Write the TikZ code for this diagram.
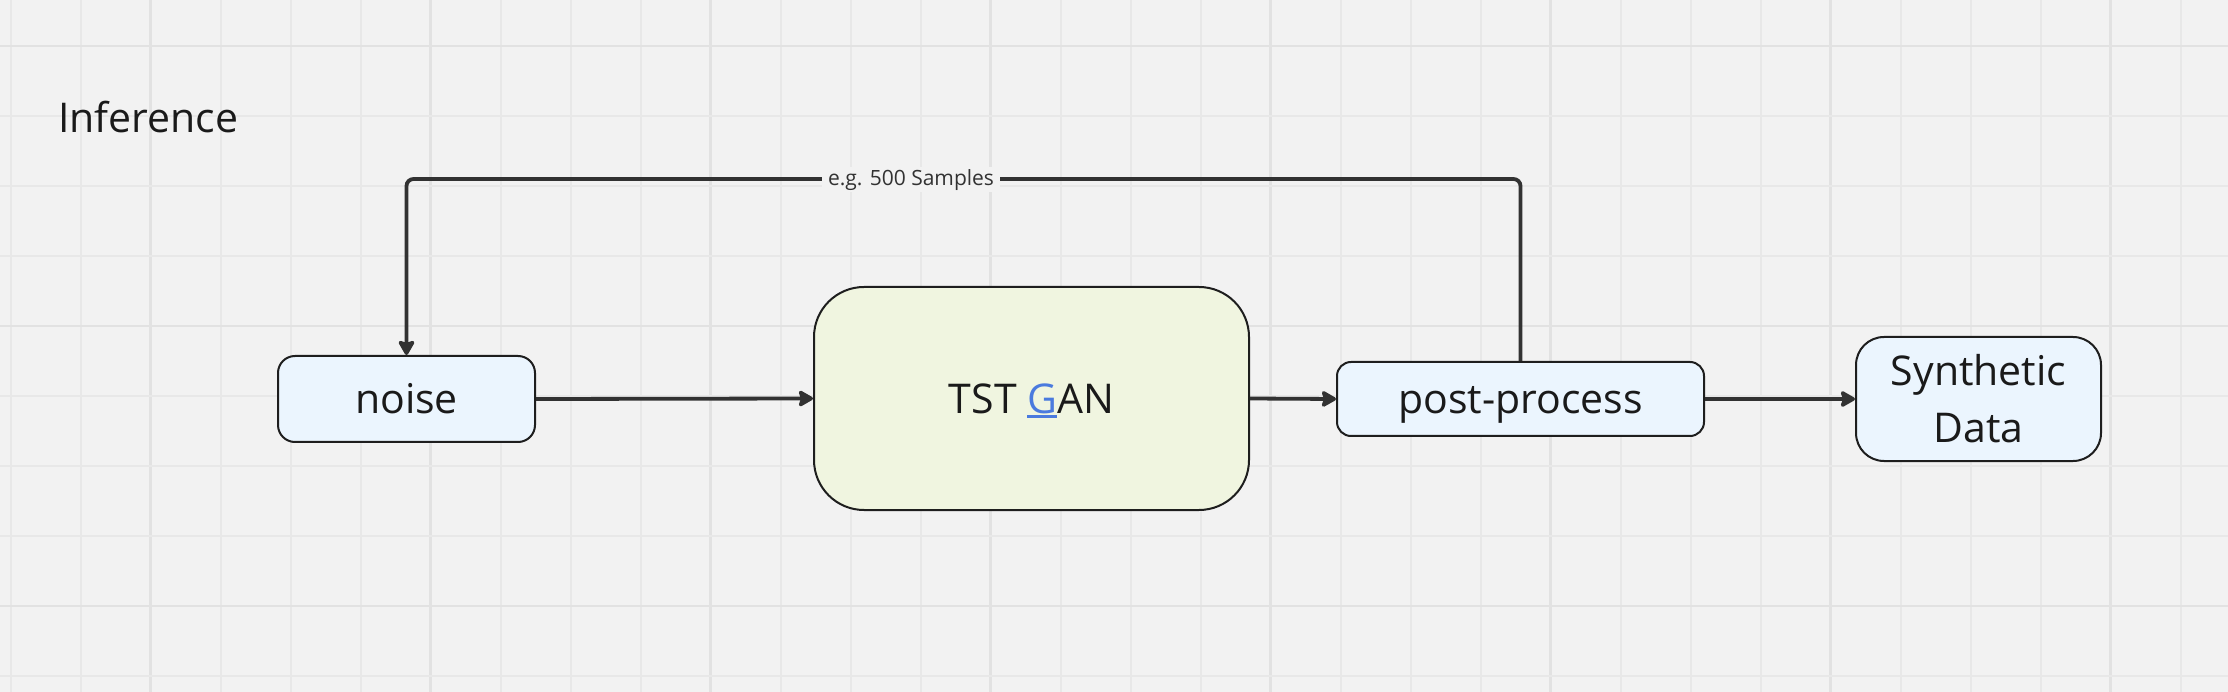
\documentclass[tikz,border=0pt]{standalone}
\usepackage{fontspec}
\setmainfont{Open Sans}
\usetikzlibrary{arrows.meta}
\definecolor{bgcol}{RGB}{242,242,242}
\definecolor{gridminor}{RGB}{232,232,232}
\definecolor{gridmajor}{RGB}{226,226,226}
\definecolor{boxblue}{RGB}{235,245,254}
\definecolor{boxgreen}{RGB}{240,245,224}
\definecolor{edgecol}{RGB}{30,30,30}
\definecolor{conncol}{RGB}{50,50,50}
\definecolor{txtcol}{RGB}{26,26,26}
\definecolor{gblue}{RGB}{74,122,222}
\tikzset{
  box/.style={rectangle, draw=edgecol, line width=2pt, inner sep=0pt, text=txtcol,
    font=\fontsize{41}{57}\selectfont, align=center},
  oneline/.style={text height=30pt, text depth=0pt},
  conn/.style={draw=conncol, line width=3.8pt, -{Stealth[length=17pt,width=19pt,inset=3pt,round]}},
  lbl/.style={fill=bgcol, text=conncol, inner xsep=6pt, inner ysep=2pt, font=\fontsize{21}{25}\selectfont}
}
\begin{document}
\begin{tikzpicture}[x=1pt,y=-1pt]
\fill[bgcol] (0,0) rectangle (2228,692);
\useasboundingbox (0,0) rectangle (2228,692);
% grid
\foreach \k in {0,...,31}{
  \pgfmathsetmacro{\xx}{10.5+70*\k}
  \pgfmathtruncatemacro{\mm}{mod(\k,4)}
  \ifnum\mm=2
    \draw[gridmajor, line width=2.6pt] (\xx,0) -- (\xx,692);
  \else
    \draw[gridminor, line width=2pt] (\xx,0) -- (\xx,692);
  \fi
}
\foreach \k in {0,...,9}{
  \pgfmathsetmacro{\yy}{46+70*\k}
  \pgfmathtruncatemacro{\mm}{mod(\k,4)}
  \ifnum\mm=0
    \draw[gridmajor, line width=2.6pt] (0,\yy) -- (2228,\yy);
  \else
    \draw[gridminor, line width=2pt] (0,\yy) -- (2228,\yy);
  \fi
}
% title
\node[anchor=base west, inner sep=0pt, text=txtcol, font=\fontsize{41}{49}\selectfont] (title) at (58,133) {Inference};
% nodes
\node[box, oneline, fill=boxblue, rounded corners=17pt, minimum width=257pt, minimum height=86pt] (noise) at (406.5,399) {noise};
\node[box, oneline, fill=boxgreen, rounded corners=50pt, minimum width=435pt, minimum height=223pt] (gan) at (1031.5,398.5)
  {TST {\color{gblue}\setbox0\hbox{G}\rlap{\rule[-5pt]{\wd0}{3pt}}\box0}AN};
\node[box, oneline, fill=boxblue, rounded corners=14pt, minimum width=367pt, minimum height=74pt] (post) at (1520.5,399) {post-process};
\node[box, fill=boxblue, rounded corners=28pt, minimum width=245pt, minimum height=124pt] (synth) at (1978.5,399) {\raisebox{-2pt}{Synthetic}\\\raisebox{-2pt}{Data}};
% connectors
\draw[conn] (noise.east) -- (gan.west);
\draw[conn] (gan.east) -- (post.west);
\draw[conn] (post.east) -- (synth.west);
\coordinate (fbR) at (1520.5,179);
\coordinate (fbL) at (406.5,179);
\draw[conn, rounded corners=7pt] (post.north) -- (fbR) -- (fbL) -- (noise.north);
\node[lbl] (fblabel) at (911,180) {e.g. 500 Samples};
\end{tikzpicture}
\end{document}
